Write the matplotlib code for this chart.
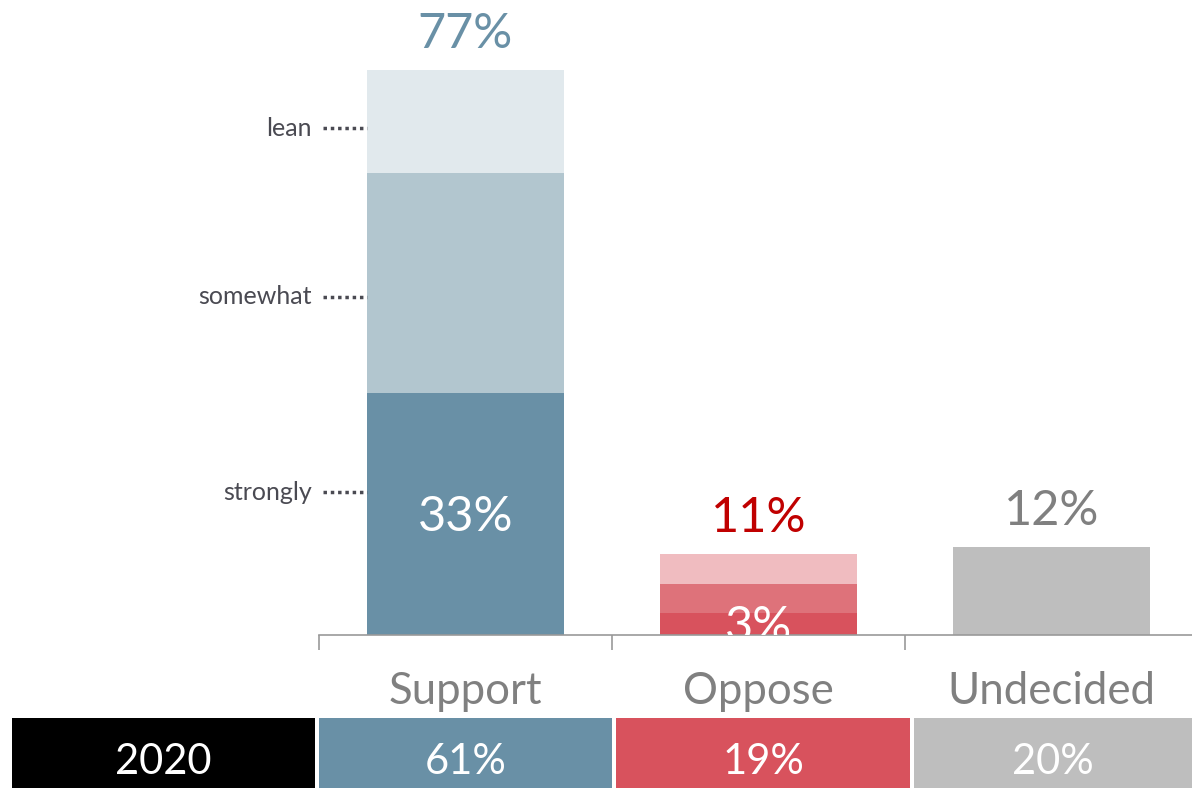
import matplotlib
matplotlib.use("Agg")
import matplotlib.pyplot as plt
from matplotlib.patches import Rectangle

plt.rcParams['font.family'] = ['Lato', 'DejaVu Sans']

# Survey results: support / oppose / undecided, split by intensity
categories = ["Support", "Oppose", "Undecided"]
strongly = [33, 3, 12]
somewhat = [30, 4, 0]
lean = [14, 4, 0]
totals = [77, 11, 12]

# Earlier-year comparison row
prior_year = "2020"
prior_values = ["61%", "19%", "20%"]

layer_labels = ["lean", "somewhat", "strongly"]
layer_label_y = [69.1, 46.1, 19.5]

strong_colors = ["#6990a6", "#d8525d", "#bebebe"]
mid_colors = ["#b2c6cf", "#de727a", "#bebebe"]
light_colors = ["#e1e9ed", "#f0bcc0", "#bebebe"]
total_colors = ["#6990a6", "#c00000", "#808080"]

W, H = 1192, 788
fig = plt.figure(figsize=(W / 100, H / 100), dpi=100)

cat_w = 293
ax = fig.add_axes([319 / W, 153 / H, 3 * cat_w / W, 635 / H])
ax.set_xlim(-0.5, 2.5)
ax.set_ylim(0, 86.6)

x = list(range(len(categories)))
bw = 0.669
ax.bar(x, strongly, width=bw, color=strong_colors, zorder=2)
b1 = [s for s in strongly]
ax.bar(x, somewhat, width=bw, bottom=b1, color=mid_colors, zorder=2)
b2 = [s + m for s, m in zip(strongly, somewhat)]
ax.bar(x, lean, width=bw, bottom=b2, color=light_colors, zorder=2)

# Totals above each bar
for xi, t, c in zip(x, totals, total_colors):
    ax.annotate(f"{t}%", (xi, t), xytext=(0, 16), textcoords="offset points",
                ha="center", va="baseline", fontsize=35, color=c)

# "strongly" share inside the two stacked bars
for xi in (0, 1):
    ax.annotate(f"{strongly[xi]}%", (xi, strongly[xi] / 2), xytext=(0, -2),
                textcoords="offset points", ha="center", va="center",
                fontsize=35, color="white", zorder=3, annotation_clip=False,
                clip_on=True)

# Intensity labels with dotted leaders
for lab, yv in zip(layer_labels, layer_label_y):
    ax.plot([-0.5 + 4 / cat_w, -bw / 2], [yv, yv], linestyle=(0, (1, 1.1)),
            color="#4a4a52", lw=2.5, clip_on=False, zorder=3)
    ax.text(-0.5 - 7 / cat_w, yv, lab, ha="right", va="center",
            fontsize=18, color="#4a4a52", clip_on=False)

# Axis: baseline and category dividers
for side in ("top", "right", "left"):
    ax.spines[side].set_visible(False)
ax.spines["bottom"].set_color("#999999")
ax.spines["bottom"].set_linewidth(1.2)
ax.set_yticks([])
ax.set_xticks([-0.5, 0.5, 1.5])
ax.set_xticklabels([])
ax.tick_params(axis="x", length=11, width=1.2, color="#999999", direction="out")

for xi, cat in zip(x, categories):
    ax.annotate(cat, (xi, 0), xytext=(0, -41), textcoords="offset points",
                ha="center", va="center", fontsize=31.5, color="#808080",
                annotation_clip=False)

# Comparison row across the bottom
row_y0, row_y1 = 718, 788
cells = [(12, 315, "#000000", prior_year),
         (319, 612, strong_colors[0], prior_values[0]),
         (616, 910, strong_colors[1], prior_values[1]),
         (914, 1192, strong_colors[2], prior_values[2])]
for x0, x1, col, txt in cells:
    fig.patches.append(Rectangle((x0 / W, 1 - row_y1 / H), (x1 - x0) / W,
                                 (row_y1 - row_y0) / H, transform=fig.transFigure,
                                 facecolor=col, edgecolor="none"))
    fig.text((x0 + x1) / 2 / W, 1 - 758 / H, txt,
             ha="center", va="center_baseline", fontsize=30, color="white")

fig.savefig("out.png", dpi=100)
